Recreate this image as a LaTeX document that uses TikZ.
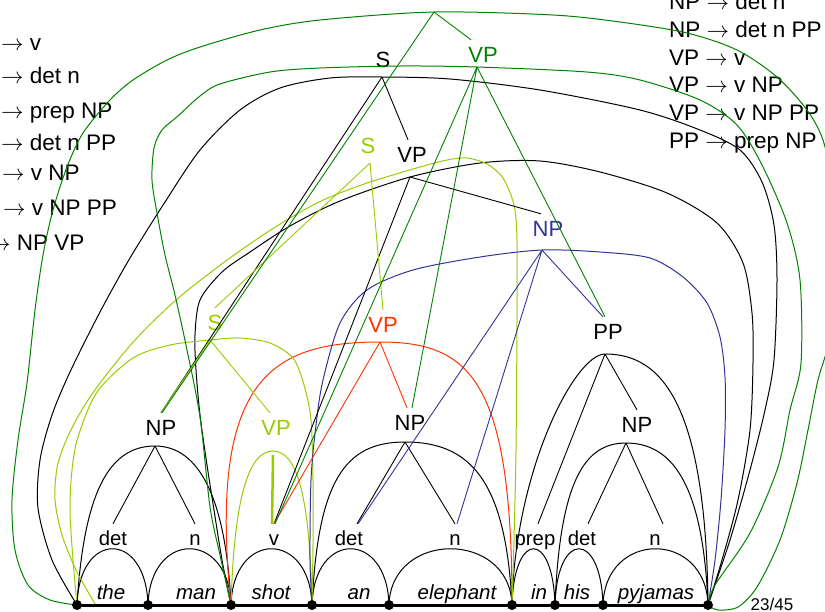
\RequirePackage{fix-cm}
\documentclass[tikz,border=0pt]{standalone}
\usepackage{fontspec}
\setmainfont{Liberation Sans}

\definecolor{dgreen}{RGB}{0,130,0}
\definecolor{lgreen}{RGB}{153,204,0}
\definecolor{ered}{RGB}{255,51,0}
\definecolor{eblue}{RGB}{51,51,153}

\tikzset{
  edgearc/.style={line width=1pt},
  treeline/.style={line width=0.9pt},
  lbl/.style={font=\fontsize{22}{26}\selectfont, anchor=base, inner sep=6pt, text height=16pt, text depth=0pt},
  catlbl/.style={font=\fontsize{20.3}{24}\selectfont, anchor=base, inner sep=6pt, text height=15pt, text depth=0pt},
  wordlbl/.style={font=\fontsize{20.5}{24}\selectfont\itshape, anchor=base, inner sep=0pt},
  gram/.style={font=\fontsize{22.5}{27}\selectfont, anchor=base west, inner sep=0pt},
}

\begin{document}
\begin{tikzpicture}[x=1pt,y=-1pt]
\useasboundingbox (0,0) rectangle (825,611);

% grammar rules
\node[gram] (r1) at (1,50) {$\rightarrow$ v};
\node[gram] (r2) at (1,83) {$\rightarrow$ det n};
\node[gram] (r3) at (1,118) {$\rightarrow$ prep NP};
\node[gram] (r4) at (1,150) {$\rightarrow$ det n PP};
\node[gram] (r5) at (2,180) {$\rightarrow$ v NP};
\node[gram] (r6) at (3,215) {$\rightarrow$ v NP PP};
\node[gram] (r7) at (-12,250) {$\rightarrow$ NP VP};
\node[gram] (q1) at (669,9.5) {NP $\rightarrow$ det n};
\node[gram] (q2) at (669,37) {NP $\rightarrow$ det n PP};
\node[gram] (q3) at (669,65) {VP $\rightarrow$ v};
\node[gram] (q4) at (669,92.5) {VP $\rightarrow$ v NP};
\node[gram] (q5) at (669,120) {VP $\rightarrow$ v NP PP};
\node[gram] (q6) at (669,148) {PP $\rightarrow$ prep NP};

% chart vertices
\foreach \n/\x in {0/77,1/148,2/231,3/312,4/389,5/512,6/555,7/603,8/708}
  \coordinate (v\n) at (\x,605);
\coordinate (lgfoot) at (97,607);

% words
\node[wordlbl] (w1) at (111,599) {the};
\node[wordlbl] (w2) at (196,599) {man};
\node[wordlbl] (w3) at (271,599) {shot};
\node[wordlbl] (w4) at (359,599) {an};
\node[wordlbl] (w5) at (457,599) {elephant};
\node[wordlbl] (w6) at (539,599) {in};
\node[wordlbl] (w7) at (577,599) {his};
\node[wordlbl] (w8) at (656,599) {pyjamas};

% lexical categories
\node[catlbl] (det1) at (113,545) {det};
\node[catlbl] (n1) at (195,545) {n};
\node[catlbl] (vb) at (274,545) {v};
\node[catlbl] (det2) at (349,545) {det};
\node[catlbl] (n2) at (455,545) {n};
\node[catlbl] (prep) at (535,545) {prep};
\node[catlbl] (det3) at (582,545) {det};
\node[catlbl] (n3) at (655,545) {n};

% phrase labels
\node[lbl] (NP1) at (161,435) {NP};
\node[lbl, text=lgreen] (VPg) at (276,435) {VP};
\node[lbl] (NP2) at (410,430) {NP};
\node[lbl] (NP3) at (637,432) {NP};
\node[lbl] (PP) at (608,339) {PP};
\node[lbl, text=ered] (VPr) at (383,332) {VP};
\node[lbl, text=lgreen] (Sg2) at (215,330) {S};
\node[lbl, text=eblue] (NPb) at (548,236) {NP};
\node[lbl] (VPk) at (412,162) {VP};
\node[lbl, text=lgreen] (Sg1) at (368,153) {S};
\node[lbl] (Sk) at (383,67) {S};
\node[lbl, text=dgreen] (VPd) at (483,62) {VP};

% apex points of the edges
\coordinate (aNP1) at (155,446);
\coordinate (aVPg) at (273,451);
\coordinate (aNP2) at (405,442);
\coordinate (aNP3) at (626,443);
\coordinate (aPP) at (605,354);
\coordinate (aVPr) at (380,342);
\coordinate (aSg2) at (210,340);
\coordinate (aSg1) at (370,163);
\coordinate (aNPb) at (542,250);
\coordinate (aVPk) at (410,177);
\coordinate (aSk) at (382,77);
\coordinate (aVPd) at (477,67);
\coordinate (aTop) at (434,12);

% word edges
\draw[edgearc] (v0) .. controls (79,530) and (146,530) .. (v1);
\draw[edgearc] (v1) .. controls (150,530) and (229,530) .. (v2);
\draw[edgearc] (v2) .. controls (233,530) and (310,530) .. (v3);
\draw[edgearc] (v3) .. controls (314,530) and (387,530) .. (v4);
\draw[edgearc] (v4) .. controls (391,530) and (510,530) .. (v5);
\draw[edgearc] (v5) .. controls (514,530) and (553,530) .. (v6);
\draw[edgearc] (v6) .. controls (557,530) and (601,530) .. (v7);
\draw[edgearc] (v7) .. controls (605,530) and (706,530) .. (v8);

% black phrase edges
\draw[edgearc] (v0) .. controls (84,490) and (110,446) .. (aNP1) .. controls (200,446) and (226,500) .. (v2);
\draw[edgearc] (v3) .. controls (318,480) and (345,442) .. (aNP2) .. controls (470,442) and (506,480) .. (v5);
\draw[edgearc] (v6) .. controls (560,480) and (585,443) .. (aNP3) .. controls (670,443) and (703,480) .. (v8);
\draw[edgearc] (v5) .. controls (515,470) and (575,354) .. (aPP) .. controls (660,354) and (706,400) .. (v8);
\draw[edgearc] plot[smooth] coordinates {(v2) (222,560) (214,510) (207,465) (200,415) (196,370) (195,335) (200,300) (222,272) (250,252) (290,226) (340,201) (aVPk) (480,163) (540,161) (600,172) (667,193) (717,223) (743,263) (752,313) (753,363) (750,430) (738,500) (722,560) (v8)};
\draw[edgearc] plot[smooth] coordinates {(v0) (52,560) (38,508) (40,460) (52,415) (70,372) (100,312) (130,258) (165,202) (200,150) (240,110) (280,88) (330,78) (aSk) (450,79) (540,90) (640,110) (700,130) (740,150) (762,182) (774,225) (777,280) (774,360) (765,410) (750,470) (730,540) (v8)};

% coloured phrase edges
\draw[edgearc, lgreen] (v2) .. controls (234,500) and (248,451) .. (aVPg) .. controls (298,451) and (310,500) .. (v3);
\draw[edgearc, ered] (v2) .. controls (208,380) and (270,342) .. (aVPr) .. controls (470,342) and (512,380) .. (v5);
\draw[edgearc, lgreen] plot[smooth] coordinates {(v0) (73,560) (70,510) (72,470) (78,437) (97,392) (133,358) (170,345) (aSg2) (240,338) (270,343) (293,358) (304,385) (311,420) (313,480) (313,545) (v3)};
\draw[edgearc, lgreen] plot[smooth] coordinates {(lgfoot) (77,572) (62,535) (55,500) (57,468) (65,443) (80,413) (100,383) (135,340) (176,300) (223,263) (263,235) (290,218) (317,203) (340,193) (367,183) (393,175) (420,167) (447,160) (467,158) (487,164) (503,178) (514,205) (517,240) (517,320) (516,450) (514,540) (v5)};
\draw[edgearc, eblue] plot[smooth] coordinates {(v3) (310,560) (311,480) (316,425) (323,380) (340,323) (367,290) (413,270) (480,257) (aNPb) (600,252) (650,258) (683,277) (707,303) (720,337) (725,377) (725,430) (721,500) (715,560) (v8)};
\draw[edgearc, dgreen] plot[smooth] coordinates {(v2) (220,555) (210,507) (200,417) (187,350) (175,295) (165,255) (157,213) (152,180) (154,148) (162,130) (178,116) (200,96) (220,84) (270,72) (320,68) (400,66) (aVPd) (587,72) (640,80) (700,100) (737,125) (762,165) (787,223) (800,280) (801,363) (790,410) (778,467) (750,533) (715,585) (v8)};
\draw[edgearc, dgreen] plot[smooth] coordinates {(v0) (50,600) (28,585) (15,550) (12,500) (18,440) (27,383) (35,310) (43,255) (53,210) (67,167) (83,133) (110,100) (133,80) (167,60) (200,47) (260,30) (320,20) (aTop) (553,15) (620,22) (687,33) (737,50) (777,77) (807,110) (823,140) (832,185) (836,260) (832,330) (818,380) (808,430) (797,483) (780,540) (757,587) (738,607) (718,610) (v8)};

% tree lines from each edge to its daughters
\draw[treeline] (aNP1) -- (det1.north) (aNP1) -- (n1.north);
\draw[treeline] (aNP2) -- ([xshift=8pt]det2.north) (aNP2) -- (n2.north);
\draw[treeline] (aNP3) -- ([xshift=6pt]det3.north) (aNP3) -- ([xshift=8pt]n3.north);
\draw[treeline] (aPP) -- ([xshift=3pt]prep.north) (aPP) -- (NP3.north);
\draw[treeline] (aVPk) -- (vb.north) (aVPk) -- ([xshift=-7pt]NPb.north);
\draw[treeline] (aSk) -- (NP1.north) (aSk) -- ([xshift=-4pt]VPk.north);
\draw[treeline, lgreen] (aSg2) -- (NP1.north) (aSg2) -- ([xshift=-6pt]VPg.north);
\draw[treeline, lgreen] (aSg1) -- (Sg2.north) (aSg1) -- (VPr.north);
\draw[lgreen, line width=2.5pt] ([yshift=-4pt]aVPg) -- ([xshift=-2pt]vb.north);
\draw[treeline, ered] (aVPr) -- (vb.north) (aVPr) -- ([xshift=-3pt]NP2.north);
\draw[treeline, eblue] (aNPb) -- ([xshift=9pt]det2.north) (aNPb) -- ([xshift=2pt]n2.north) (aNPb) -- ([xshift=-5pt]PP.north);
\draw[treeline, dgreen] (aVPd) -- ([xshift=1pt]vb.north) (aVPd) -- ([xshift=2pt]NP2.north) (aVPd) -- ([xshift=-3pt]PP.north);
\draw[treeline, dgreen] (aTop) -- ([xshift=1pt]NP1.north) (aTop) -- ([xshift=-12pt]VPd.north);

% baseline and vertices
\draw[line width=3pt] (v0) -- (v8);
\foreach \n in {0,...,8} \fill (v\n) circle (5pt);

% slide number
\node[font=\fontsize{17}{20}\selectfont, anchor=base, inner sep=0pt] (pg) at (772,610) {23/45};
\end{tikzpicture}
\end{document}
